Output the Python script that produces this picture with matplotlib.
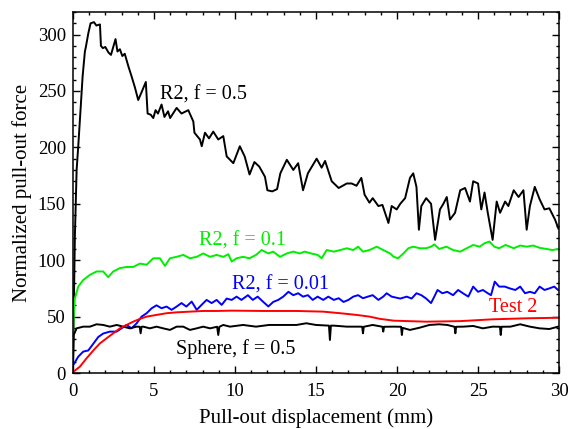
import matplotlib
matplotlib.use("Agg")
import matplotlib.pyplot as plt
from matplotlib.ticker import MultipleLocator

# R2, f = 0.5 (black, upper curve)
r2_05_x = [0, 0.05, 0.12, 0.23, 0.33, 0.47, 0.6, 0.74, 0.8, 0.95, 1.09, 1.3, 1.45, 1.67, 1.73,
           1.85, 2.0, 2.2, 2.35, 2.63, 2.75, 2.9, 3.05, 3.2, 3.42, 3.62, 3.83, 4.03, 4.24, 4.5,
           4.61, 4.8, 4.96, 5.1, 5.25, 5.47, 5.65, 5.87, 6.0, 6.4, 6.7, 7.12, 7.43, 7.5, 7.84,
           7.95, 8.15, 8.4, 8.66, 8.97, 9.28, 9.49, 9.9, 10.3, 10.6, 10.9, 11.2, 11.5, 11.85,
           12.0, 12.3, 12.6, 12.8, 13.2, 13.6, 13.9, 14.2, 14.5, 15.04, 15.35, 15.56, 15.97,
           16.4, 16.9, 17.2, 17.5, 17.8, 18.0, 18.3, 18.5, 18.85, 19.1, 19.47, 19.67, 19.98,
           20.2, 20.5, 20.8, 21.0, 21.2, 21.35, 21.5, 21.8, 22.1, 22.35, 22.65, 22.86, 23.07,
           23.27, 23.58, 23.9, 24.2, 24.5, 24.7, 25.0, 25.2, 25.4, 25.6, 25.9, 26.15, 26.36,
           26.67, 26.87, 27.2, 27.5, 27.8, 28.0, 28.2, 28.5, 28.8, 29.1, 29.4, 29.75, 29.96]
r2_05_y = [0, 50, 120, 180, 201, 233, 263, 285, 289, 301, 310, 311, 308, 309, 290,
           288, 289, 284, 282, 296, 285, 287, 281, 283, 272, 263, 253, 242, 249, 258,
           230, 229, 226, 233, 230, 238, 227, 232, 226, 235, 230, 233, 223, 213, 207,
           201, 213, 208, 214, 207, 210, 192, 186, 201, 192, 176, 187, 183, 174,
           162, 161, 163, 177, 189, 180, 186, 162, 177, 190, 182, 188, 170,
           164, 168, 168, 166, 173, 158, 151, 155, 148, 149, 133, 148, 145,
           150, 155, 173, 177, 165, 127, 148, 155, 150, 118, 145, 150, 156,
           136, 142, 162, 164, 152, 170, 168, 145, 160, 142, 118, 152, 142,
           152, 148, 162, 156, 162, 127, 148, 165, 154, 145, 146, 136, 128]

# R2, f = 0.1 (green)
r2_01_x = [0, 0.03, 0.12, 0.33, 0.64, 1.05, 1.46, 1.87, 2.18, 2.49, 2.9, 3.31, 3.72, 4.14,
           4.55, 4.96, 5.37, 5.68, 5.99, 6.4, 6.81, 7.22, 7.64, 8.04, 8.46, 8.87, 9.28, 9.59,
           9.8, 10.1, 10.5, 10.9, 11.3, 11.65, 12.06, 12.36, 12.78, 13.2, 13.6, 14.0, 14.3,
           14.7, 15.1, 15.35, 15.66, 16.1, 16.5, 16.9, 17.3, 17.6, 17.9, 18.3, 18.75, 19.15,
           19.57, 19.8, 20.06, 20.4, 20.7, 21.0, 21.4, 21.8, 22.1, 22.3, 22.6, 23.05, 23.46,
           23.9, 24.3, 24.7, 25.1, 25.4, 25.7, 26.0, 26.3, 26.7, 27.2, 27.6, 28.0, 28.4, 28.8,
           29.2, 29.6, 29.94]
r2_01_y = [20, 45, 66, 76.6, 82.5, 87, 90, 90, 85, 90, 93, 94, 94, 97,
           96, 101.7, 101.7, 95, 101.7, 103, 104.7, 101.7, 103, 106, 103, 104.7, 103, 105.3,
           98.8, 101.7, 103, 101.7, 104.7, 109, 106, 107.6, 103, 106, 107.6, 106, 107.6,
           106, 104.7, 101.7, 109, 107.6, 109, 110.6, 109, 112, 107.6, 109, 112, 109,
           106, 103, 101.7, 106, 110.6, 112, 110.6, 110.6, 112, 114, 110, 112, 109,
           107.6, 110.6, 113.5, 112, 115, 116.5, 112, 110.6, 113.5, 110.6, 113, 112, 113, 111,
           110, 109, 110]

# R2, f = 0.01 (blue)
r2_001_x = [0, 0.02, 0.33, 0.64, 0.95, 1.26, 1.57, 1.87, 2.28, 2.7, 3.0, 3.31, 3.62, 3.93,
            4.24, 4.55, 4.86, 5.16, 5.47, 5.78, 6.09, 6.4, 6.7, 7.0, 7.33, 7.64, 7.94, 8.25,
            8.56, 8.87, 9.18, 9.49, 9.8, 10.1, 10.4, 10.8, 11.1, 11.4, 11.75, 12.06, 12.36,
            12.67, 12.98, 13.3, 13.6, 13.9, 14.2, 14.5, 14.8, 15.1, 15.45, 15.76, 16.1, 16.4,
            16.7, 17.0, 17.3, 17.6, 17.9, 18.2, 18.5, 18.85, 19.15, 19.36, 19.67, 20.2, 20.6,
            20.9, 21.2, 21.5, 21.8, 22.1, 22.3, 22.5, 22.8, 23.1, 23.46, 23.77, 24.07, 24.4,
            24.7, 25.0, 25.3, 25.6, 25.8, 26.03, 26.3, 26.65, 26.96, 27.3, 27.6, 27.9, 28.2,
            28.5, 28.8, 29.1, 29.4, 29.7, 29.94]
r2_001_y = [4, 7, 14.5, 19, 20, 26, 32, 35, 36.7, 36.7, 39.6, 42.6, 39.6, 44,
            50, 53, 57.4, 60, 57.4, 58.9, 56, 58.9, 62, 58.9, 63.3, 56, 60.4, 64.8,
            62, 64.8, 60.4, 66, 64.8, 67.7, 64.8, 69, 64.8, 67.7, 63, 59, 63,
            64.8, 67.7, 72, 69, 70.7, 67.7, 69, 64.8, 67.7, 64.8, 67.7, 64.8, 66.3,
            63, 64.8, 67.7, 69, 66.3, 67.7, 69, 64.8, 67.7, 70.7, 67.7, 66, 67.7,
            66, 70.7, 69, 66, 62, 67.7, 73.6, 70.7, 72, 69, 73.6, 70.7, 67.7,
            76.6, 72, 73.6, 70.7, 69, 81, 76.6, 76.6, 75, 73.6, 76.6, 70.7, 72,
            70.7, 76.6, 73.6, 75, 76.6, 73.6]

# Test 2 (red)
test2_x = [0, 0.02, 0.43, 0.84, 1.26, 1.67, 2.08, 2.49, 2.9, 3.31, 3.72, 4.14, 4.55, 5.16,
           5.78, 6.4, 7.22, 8.04, 8.87, 9.8, 11.75, 13.8, 15.45, 16.5, 17.5, 18.3, 18.95,
           19.8, 21.8, 23.9, 25.9, 28.0, 29.94]
test2_y = [0, 1, 5.6, 13, 20, 26.3, 30.8, 35.2, 39.6, 42.6, 45.5, 48, 50, 51.5,
           53, 53.8, 54.4, 55, 55, 55.3, 55, 55, 54.4, 53, 51.5, 50, 48,
           46.4, 45.5, 46, 47.6, 48.5, 49]

# Sphere, f = 0.5 (black, lower curve)
sphere_x = [0, 0.05, 0.23, 0.64, 1.05, 1.46, 1.87, 2.28, 2.7, 3.1, 3.52, 3.93, 4.12, 4.18,
            4.24, 4.34, 4.75, 5.16, 5.57, 5.99, 6.4, 6.81, 7.22, 7.64, 8.04, 8.46, 8.9, 8.97,
            9.04, 9.28, 9.69, 10.5, 11.3, 12.1, 13.0, 13.8, 14.4, 15.0, 15.8, 15.86, 15.92,
            16.1, 16.9, 17.7, 17.85, 17.9, 17.95, 18.5, 19.1, 19.15, 19.2, 19.8, 20.25, 20.3,
            20.35, 20.8, 21.4, 22.0, 22.6, 23.1, 23.55, 23.6, 23.65, 24.1, 24.7, 25.3, 25.9,
            26.35, 26.4, 26.45, 27.0, 27.6, 28.2, 28.8, 29.4, 29.94]
sphere_y = [0, 33.7, 39.6, 41.1, 41.1, 43.2, 42.6, 41.1, 42.6, 41.1, 39.6, 41.1, 41, 35.2,
            41, 41.1, 39.6, 41.1, 39.6, 38.2, 41.1, 41.1, 38.2, 39.6, 41.1, 39.6, 41, 33.7,
            41, 42.6, 41.1, 42.6, 41.1, 42.6, 42.6, 42.6, 44.1, 42.6, 42, 29.3, 42,
            42, 41.1, 41.1, 41, 35.2, 41, 42.6, 41, 36.7, 41, 41.1, 41, 33.7,
            40, 38.2, 40.2, 42.6, 43.2, 42.6, 41, 35.2, 41, 41.1, 41.7, 39.6, 41.1,
            41, 33.7, 41, 41.1, 43.2, 41.1, 39.6, 39, 41.1]

plt.rcParams['font.family'] = ['Liberation Serif', 'DejaVu Serif']

fig = plt.figure(figsize=(5.74, 4.29), dpi=100)
ax = fig.add_axes([0.127, 0.1305, 0.847, 0.8415])

lw = 1.4
ax.plot(r2_05_x, r2_05_y, color='black', lw=lw)
ax.plot(r2_01_x, r2_01_y, color='#00ee00', lw=lw)
ax.plot(r2_001_x, r2_001_y, color='#0000ff', lw=lw)
ax.plot(sphere_x, sphere_y, color='black', lw=lw)
ax.plot(test2_x, test2_y, color='#ff0000', lw=lw)

fs = 14.5
ax.text(5.37, 242, 'R2, f = 0.5', color='black', fontsize=fs)
ax.text(7.78, 112.7, 'R2, f = 0.1', color='#00ee00', fontsize=fs)
ax.text(9.8, 73.6, 'R2, f = 0.01', color='#0000ff', fontsize=fs)
ax.text(25.7, 53.8, 'Test 2', color='#ff0000', fontsize=fs)
ax.text(6.34, 16.9, 'Sphere, f = 0.5', color='black', fontsize=fs)

ax.set_xlim(0, 30)
ax.set_ylim(0, 320)
ax.xaxis.set_major_locator(MultipleLocator(5))
ax.xaxis.set_minor_locator(MultipleLocator(1))
ax.yaxis.set_major_locator(MultipleLocator(50))
ax.yaxis.set_minor_locator(MultipleLocator(10))
ax.tick_params(which='both', direction='in', top=True, right=True, width=1.0)
ax.tick_params(which='major', length=4.8, labelsize=13.5)
ax.tick_params(which='minor', length=2.4)
ax.tick_params(axis='x', which='major', pad=7)
ax.tick_params(axis='y', which='major', pad=5)
for s in ax.spines.values():
    s.set_linewidth(1.1)

ax.set_xlabel('Pull-out displacement (mm)', fontsize=15, labelpad=6)
ax.set_ylabel('Normalized pull-out force', fontsize=15, labelpad=4)

fig.savefig('out.png', dpi=100)
